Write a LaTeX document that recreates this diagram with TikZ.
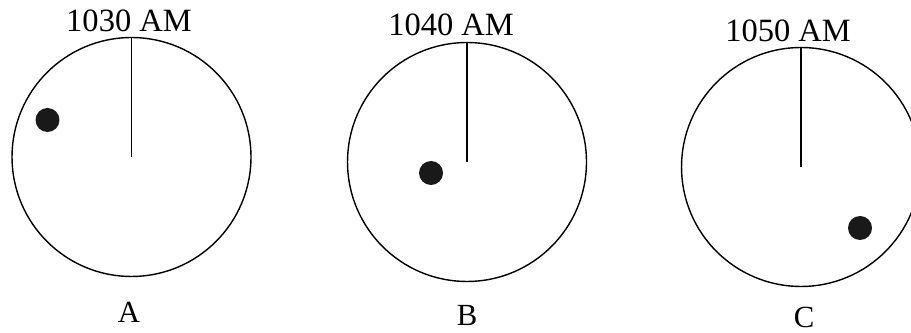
\documentclass[tikz,border=0pt]{standalone}
\usepackage{fontspec}
\setmainfont{Liberation Serif}
\usepackage{tikz}
\usetikzlibrary{positioning}

\tikzset{
  dial/.style={draw,circle,minimum size=4.78cm,inner sep=0pt,outer sep=0pt,line width=0.8pt},
  ball/.style={fill=black!90,circle,minimum size=0.48cm,inner sep=0pt},
  hand/.style={line width=0.6pt},
  timelbl/.style={anchor=base,font=\fontsize{18.5}{20}\selectfont},
  caselbl/.style={anchor=base,font=\fontsize{17.5}{20}\selectfont}
}

\begin{document}
\begin{tikzpicture}[x=0.02cm,y=-0.02cm]
  \useasboundingbox (0,0) rectangle (911,333);
  % dials: centre / time label / ball / letter
  \foreach \cx/\cy/\tx/\ty/\tm/\bx/\by/\lx/\ly/\nm in
     {131.5/157/129/32/1030/47.5/120/129/323/A,
      467/162/451/36/1040/431/173/467/326/B,
      801/167/788/42/1050/860/228/804/328/C} {
    \node[dial] (dial\nm) at (\cx,\cy) {};
    \draw[hand] (dial\nm.north) -- (dial\nm.center);
    \node[ball] (ball\nm) at (\bx,\by) {};
    \node[timelbl] (time\nm) at (\tx,\ty) {\tm\ AM};
    \node[caselbl] (case\nm) at (\lx,\ly) {\nm};
  }
\end{tikzpicture}
\end{document}
